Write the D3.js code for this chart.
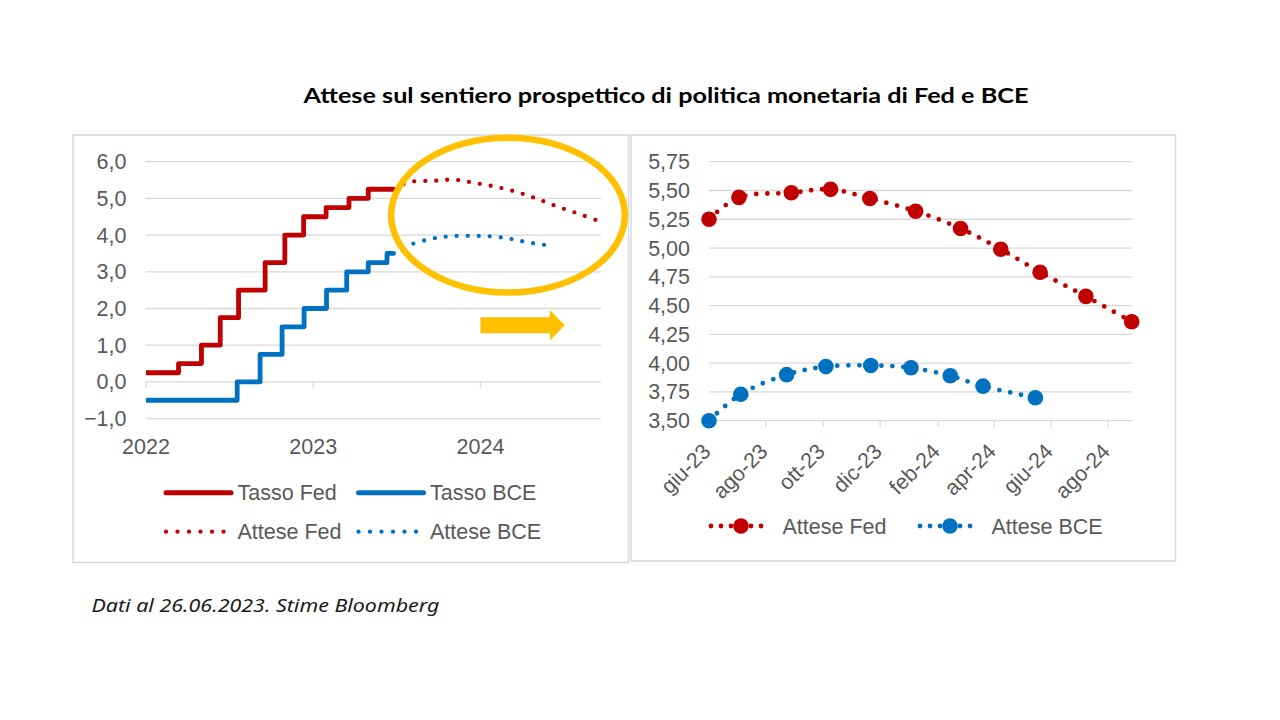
<!DOCTYPE html>
<html>
<head>
<meta charset="utf-8">
<script src="https://cdn.jsdelivr.net/npm/d3@7"></script>
<style>
  html, body { margin: 0; padding: 0; background: #ffffff; }
  svg { display: block; }
  text { font-family: "Liberation Sans", Arial, sans-serif; }
</style>
</head>
<body>
<svg id="chart" width="1280" height="720"></svg>
<script>
// ---------------- DATA ----------------
const title = "Attese sul sentiero prospettico di politica monetaria di Fed e BCE";
const footnote = "Dati al 26.06.2023. Stime Bloomberg";

// Left chart: policy rates (step lines)
const fedRateDates  = ["2022-01-01","2022-03-13","2022-05-02","2022-06-12","2022-07-22","2022-09-18","2022-10-31","2022-12-11","2023-01-29","2023-03-20","2023-05-01","2023-06-26"];
const fedRateValues = [0.25, 0.50, 1.00, 1.75, 2.50, 3.25, 4.00, 4.50, 4.75, 5.00, 5.25, 5.25];
const bceRateDates  = ["2022-01-01","2022-07-19","2022-09-07","2022-10-25","2022-12-12","2023-01-30","2023-03-15","2023-05-01","2023-06-11","2023-06-26"];
const bceRateValues = [-0.50, 0.00, 0.75, 1.50, 2.00, 2.50, 3.00, 3.25, 3.50, 3.50];

// Expectations (meeting dates)
const fedExpDates  = ["2023-06-26","2023-07-28","2023-09-22","2023-11-03","2023-12-15","2024-02-02","2024-03-21","2024-05-03","2024-06-14","2024-08-02","2024-09-20"];
const fedExpValues = [5.25, 5.44, 5.48, 5.51, 5.43, 5.32, 5.17, 4.99, 4.79, 4.58, 4.36];
const bceExpDates  = ["2023-06-26","2023-07-30","2023-09-17","2023-10-29","2023-12-16","2024-01-28","2024-03-10","2024-04-14","2024-06-09"];
const bceExpValues = [3.50, 3.73, 3.90, 3.97, 3.98, 3.96, 3.89, 3.80, 3.70];

// Axis ticks
const leftYTicks   = [-1, 0, 1, 2, 3, 4, 5, 6];
const leftXTicks   = ["2022-01-01","2023-01-01","2024-01-01"];
const leftXLabels  = ["2022","2023","2024"];
const rightYTicks  = [3.50, 3.75, 4.00, 4.25, 4.50, 4.75, 5.00, 5.25, 5.50, 5.75];
const rightXTicks  = ["2023-06-26","2023-08-26","2023-10-26","2023-12-26","2024-02-26","2024-04-26","2024-06-26","2024-08-26"];
const rightXLabels = ["giu-23","ago-23","ott-23","dic-23","feb-24","apr-24","giu-24","ago-24"];

const leftLegend  = ["Tasso Fed","Tasso BCE","Attese Fed","Attese BCE"];
const rightLegend = ["Attese Fed","Attese BCE"];

// ---------------- STYLE ----------------
const RED = "#C00000", BLUE = "#0070C0", ORANGE = "#FFC000";
const GRID = "#d9d9d9", LABEL = "#595959";
const FS = 21.5;

const parse = d3.utcParse("%Y-%m-%d");
const svg = d3.select("#chart");
const fmtComma = (f) => (v) => d3.format(f)(v).replace(".", ",");

// Panel frames
svg.append("rect").attr("x", 73).attr("y", 135).attr("width", 555.5).attr("height", 427.5)
  .attr("fill", "#fff").attr("stroke", GRID).attr("stroke-width", 1.5);
svg.append("rect").attr("x", 631).attr("y", 135).attr("width", 544.5).attr("height", 426)
  .attr("fill", "#fff").attr("stroke", GRID).attr("stroke-width", 1.5);

// Title
svg.append("text").attr("x", 303.5).attr("y", 103)
  .attr("font-weight", 700)
  .attr("font-size", 21).attr("fill", "#000")
  .attr("textLength", 725).attr("lengthAdjust", "spacingAndGlyphs")
  .style("font-family", "Lato, 'Open Sans', sans-serif")
  .text(title);

// Footnote
svg.append("text").attr("x", 91.5).attr("y", 612)
  .style("font-family", "'Noto Sans', 'Open Sans', sans-serif").attr("font-style", "italic")
  .attr("font-size", 17.5).attr("fill", "#1a1a1a")
  .attr("textLength", 348).attr("lengthAdjust", "spacingAndGlyphs")
  .text(footnote);

// ================= LEFT CHART =================
const xL = d3.scaleUtc().domain([parse("2022-01-01"), parse("2024-09-20")]).range([146, 601]);
const yL = d3.scaleLinear().domain([-1, 6]).range([418.6, 161.7]);

const gL = svg.append("g");
gL.selectAll("line.grid").data(leftYTicks).join("line")
  .attr("x1", xL.range()[0]).attr("x2", xL.range()[1])
  .attr("y1", d => yL(d)).attr("y2", d => yL(d))
  .attr("stroke", GRID).attr("stroke-width", 1.3);
gL.selectAll("text.ylab").data(leftYTicks).join("text")
  .attr("x", 126.5).attr("y", d => yL(d)).attr("dy", "0.35em")
  .attr("text-anchor", "end").attr("font-size", FS).attr("fill", LABEL)
  .text(fmtComma(".1f"));
gL.selectAll("line.xt").data(leftXTicks).join("line")
  .attr("x1", d => xL(parse(d))).attr("x2", d => xL(parse(d)))
  .attr("y1", yL(0)).attr("y2", yL(0) + 6)
  .attr("stroke", GRID).attr("stroke-width", 1.3);
gL.selectAll("text.xlab").data(leftXTicks).join("text")
  .attr("x", d => xL(parse(d))).attr("y", 446).attr("dy", "0.35em")
  .attr("text-anchor", "middle").attr("font-size", FS).attr("fill", LABEL)
  .text((d, i) => leftXLabels[i]);

const zip = (ds, vs) => ds.map((d, i) => ({ date: parse(d), value: vs[i] }));
const fedRate = zip(fedRateDates, fedRateValues);
const bceRate = zip(bceRateDates, bceRateValues);
const fedExp = zip(fedExpDates, fedExpValues);
const bceExp = zip(bceExpDates, bceExpValues);

const stepL = d3.line().x(d => xL(d.date)).y(d => yL(d.value)).curve(d3.curveStepAfter);
const smoothL = d3.line().x(d => xL(d.date)).y(d => yL(d.value)).curve(d3.curveCatmullRom.alpha(0.5));

gL.append("path").attr("d", stepL(bceRate)).attr("fill", "none")
  .attr("stroke", BLUE).attr("stroke-width", 4.8).attr("stroke-linejoin", "round");
gL.append("path").attr("d", stepL(fedRate)).attr("fill", "none")
  .attr("stroke", RED).attr("stroke-width", 4.8).attr("stroke-linejoin", "round");
gL.append("path").attr("d", smoothL(fedExp)).attr("fill", "none")
  .attr("stroke", RED).attr("stroke-width", 4.3).attr("stroke-linecap", "round")
  .attr("stroke-dasharray", "0 11");
gL.append("path").attr("d", smoothL(bceExp)).attr("fill", "none")
  .attr("stroke", BLUE).attr("stroke-width", 4.3).attr("stroke-linecap", "round")
  .attr("stroke-dasharray", "0 11");

// Annotations (in data coordinates of the left chart)
const ellipseCenter = { date: "2024-03-01", value: 4.545 };
const ellipseRadiusDays = 255, ellipseRadiusValue = 2.11;
const cx = xL(parse(ellipseCenter.date)), cy = yL(ellipseCenter.value);
const rx = xL(d3.utcDay.offset(parse(ellipseCenter.date), ellipseRadiusDays)) - cx;
const ry = yL(ellipseCenter.value - ellipseRadiusValue) - cy;
gL.append("ellipse").attr("cx", cx).attr("cy", cy).attr("rx", rx).attr("ry", ry)
  .attr("fill", "none").attr("stroke", ORANGE).attr("stroke-width", 6.5);

const arrowFrom = "2024-01-01", arrowTo = "2024-07-03", arrowValue = 1.545;
const ax0 = xL(parse(arrowFrom)), ax1 = xL(parse(arrowTo)), ay = yL(arrowValue);
const headLen = 15, bodyH = 8, headH = 15.3;
gL.append("path")
  .attr("d", `M${ax0},${ay - bodyH}L${ax1 - headLen},${ay - bodyH}L${ax1 - headLen},${ay - headH}L${ax1},${ay}L${ax1 - headLen},${ay + headH}L${ax1 - headLen},${ay + bodyH}L${ax0},${ay + bodyH}Z`)
  .attr("fill", ORANGE);

// Left legend
const legL = svg.append("g");
const legLItems = [
  { x: 166, y: 492.7, color: RED, dotted: false },
  { x: 358.5, y: 492.7, color: BLUE, dotted: false },
  { x: 166, y: 531.7, color: RED, dotted: true },
  { x: 358.5, y: 531.7, color: BLUE, dotted: true }
];
legLItems.forEach((it, i) => {
  const ln = legL.append("line").attr("x1", it.x).attr("x2", it.x + 65)
    .attr("y1", it.y).attr("y2", it.y).attr("stroke", it.color);
  if (it.dotted) {
    ln.attr("stroke-width", 4.3).attr("stroke-linecap", "round").attr("stroke-dasharray", "0 11.5")
      .attr("x2", it.x + 60);
  } else {
    ln.attr("stroke-width", 5).attr("stroke-linecap", "round");
  }
  legL.append("text").attr("x", it.x + 71.5).attr("y", it.y).attr("dy", "0.35em")
    .attr("font-size", FS).attr("fill", LABEL).text(leftLegend[i]);
});

// ================= RIGHT CHART =================
const xR = d3.scaleUtc().domain([parse("2023-06-26"), parse("2024-09-20")]).range([709, 1131.7]);
const yR = d3.scaleLinear().domain([3.5, 5.75]).range([420.7, 161.7]);

const gR = svg.append("g");
gR.selectAll("line.grid").data(rightYTicks).join("line")
  .attr("x1", xR.range()[0]).attr("x2", xR.range()[1])
  .attr("y1", d => yR(d)).attr("y2", d => yR(d))
  .attr("stroke", GRID).attr("stroke-width", 1.3);
gR.selectAll("text.ylab").data(rightYTicks).join("text")
  .attr("x", 690).attr("y", d => yR(d)).attr("dy", "0.35em")
  .attr("text-anchor", "end").attr("font-size", FS).attr("fill", LABEL)
  .text(fmtComma(".2f"));
gR.selectAll("line.xt").data(rightXTicks).join("line")
  .attr("x1", d => xR(parse(d))).attr("x2", d => xR(parse(d)))
  .attr("y1", yR(3.5)).attr("y2", yR(3.5) + 6)
  .attr("stroke", GRID).attr("stroke-width", 1.3);
gR.selectAll("text.xlab").data(rightXTicks).join("text")
  .attr("transform", d => `translate(${xR(parse(d)) + 3},${yR(3.5) + 32}) rotate(-45)`)
  .attr("text-anchor", "end").attr("font-size", FS).attr("fill", LABEL)
  .text((d, i) => rightXLabels[i]);

const smoothR = d3.line().x(d => xR(d.date)).y(d => yR(d.value)).curve(d3.curveCatmullRom.alpha(0.5));
[[fedExp, RED], [bceExp, BLUE]].forEach(([data, color]) => {
  gR.append("path").attr("d", smoothR(data)).attr("fill", "none")
    .attr("stroke", color).attr("stroke-width", 4.8).attr("stroke-linecap", "round")
    .attr("stroke-dasharray", "0 11");
  gR.selectAll(null).data(data).join("circle")
    .attr("cx", d => xR(d.date)).attr("cy", d => yR(d.value)).attr("r", 7.8)
    .attr("fill", color);
});

// Right legend
const legR = svg.append("g");
[{ x: 711, color: RED }, { x: 920, color: BLUE }].forEach((it, i) => {
  const y = 526;
  legR.append("line").attr("x1", it.x).attr("x2", it.x + 60).attr("y1", y).attr("y2", y)
    .attr("stroke", it.color).attr("stroke-width", 4.8).attr("stroke-linecap", "round")
    .attr("stroke-dasharray", "0 10");
  legR.append("circle").attr("cx", it.x + 30).attr("cy", y).attr("r", 7.8).attr("fill", it.color);
  legR.append("text").attr("x", it.x + 71.5).attr("y", y).attr("dy", "0.35em")
    .attr("font-size", FS).attr("fill", LABEL).text(rightLegend[i]);
});
</script>
</body>
</html>
